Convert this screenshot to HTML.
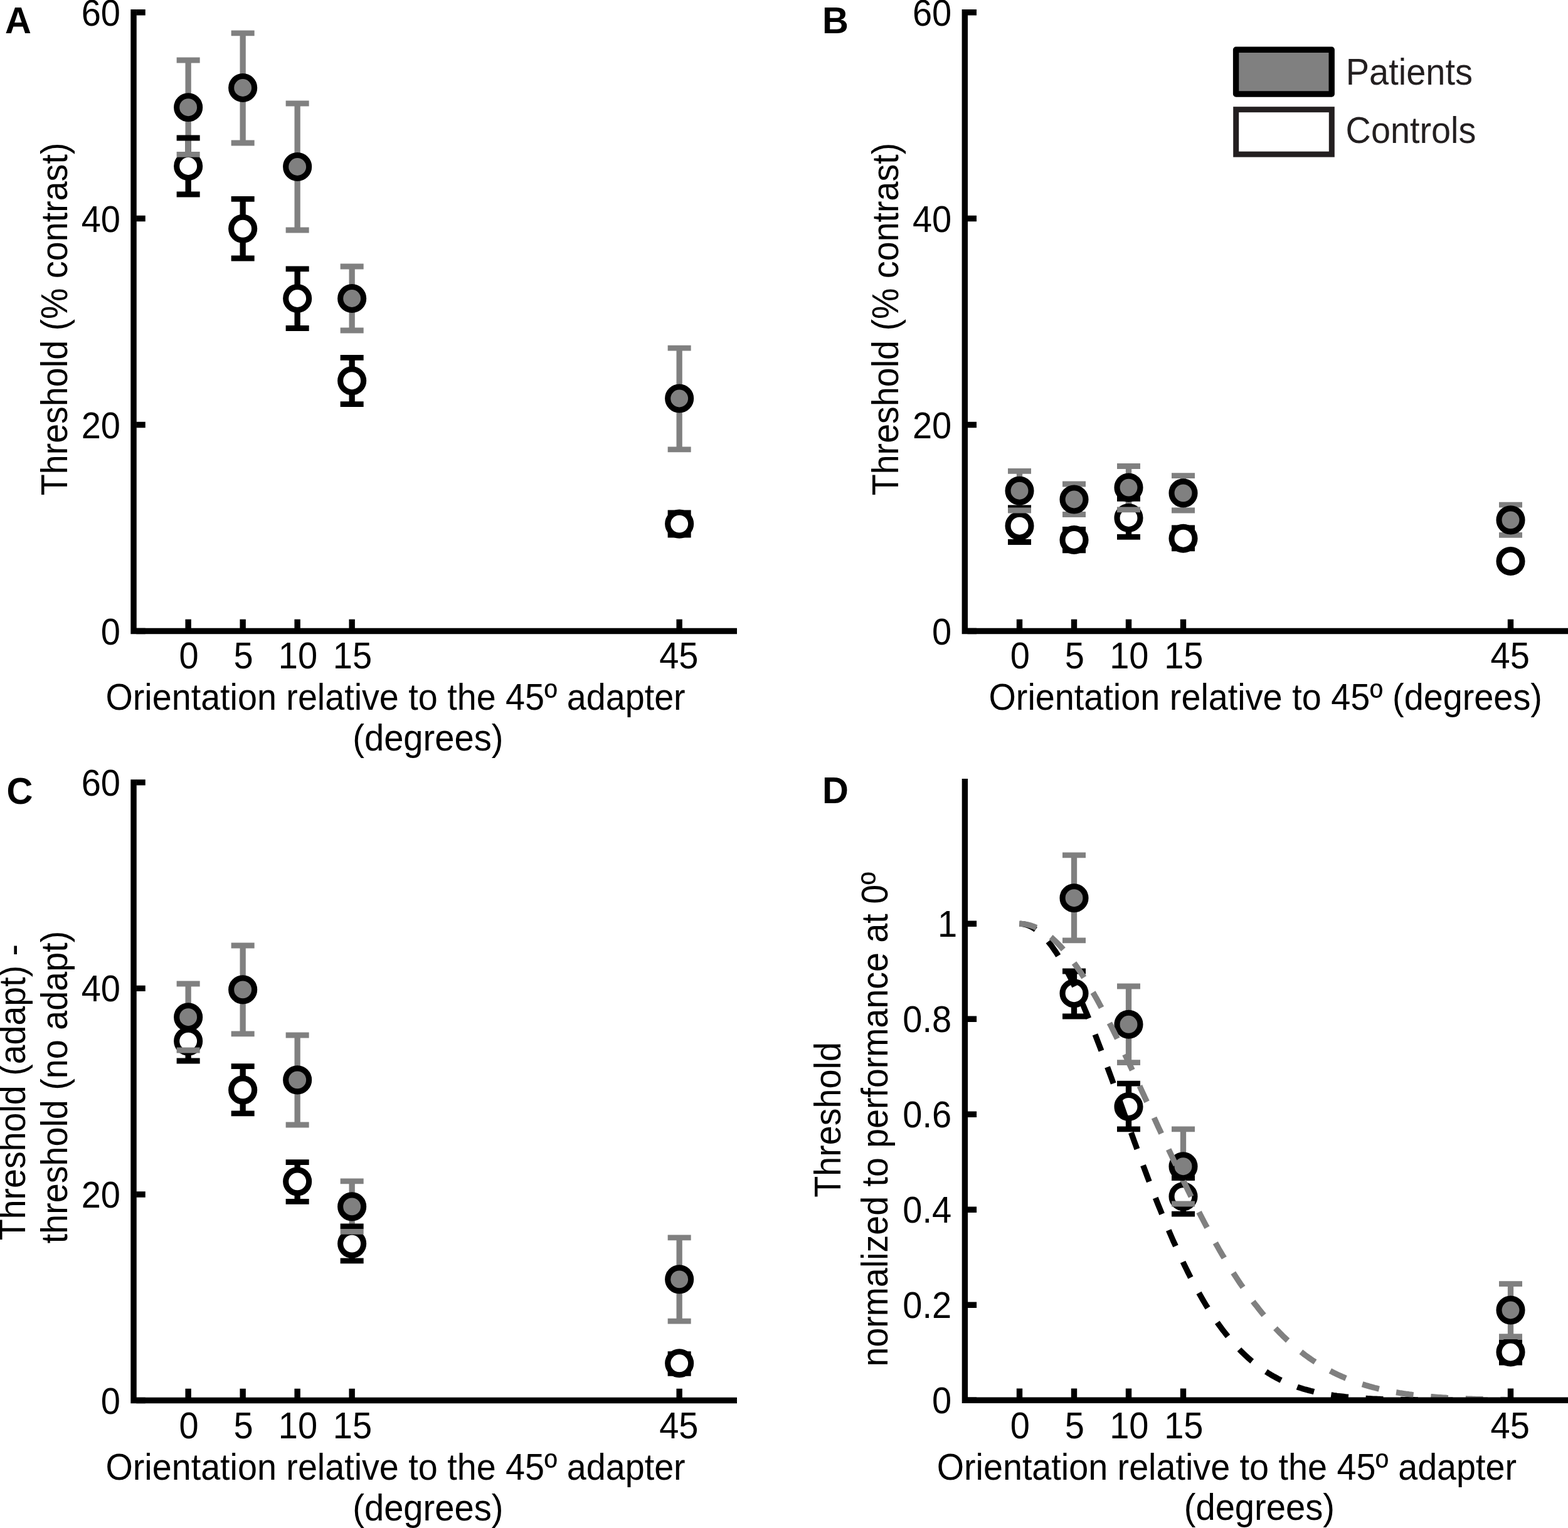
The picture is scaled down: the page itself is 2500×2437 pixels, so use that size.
<!DOCTYPE html>
<html><head><meta charset="utf-8"><title>Figure</title>
<style>html,body{margin:0;padding:0;background:#fff;overflow:hidden;}svg{display:block;}</style>
</head><body>
<svg width="2500" height="2437" viewBox="0 0 2500 2437">
<rect width="2500" height="2437" fill="#fff"/>
<path d="M300.15 220V310M387.15 317.4V412M474.15 428.8V523.5M561.15 570.4V644.6M1083.15 818V853" stroke="#000" stroke-width="9.3" fill="none"/>
<path d="M300.15 96V246.4M387.15 52.8V228M474.15 165V367M561.15 425V527M1083.15 555.2V716.8" stroke="#808080" stroke-width="9.3" fill="none"/>
<path d="M281.65 220H318.65M281.65 310H318.65M368.65 317.4H405.65M368.65 412H405.65M455.65 428.8H492.65M455.65 523.5H492.65M542.65 570.4H579.65M542.65 644.6H579.65M1064.65 818H1101.65M1064.65 853H1101.65" stroke="#000" stroke-width="8.8" fill="none"/>
<circle cx="300.15" cy="265" r="18.5" fill="#fff" stroke="#000" stroke-width="9.1"/>
<circle cx="387.15" cy="364.8" r="18.5" fill="#fff" stroke="#000" stroke-width="9.1"/>
<circle cx="474.15" cy="476" r="18.5" fill="#fff" stroke="#000" stroke-width="9.1"/>
<circle cx="561.15" cy="607.2" r="18.5" fill="#fff" stroke="#000" stroke-width="9.1"/>
<circle cx="1083.15" cy="835.6" r="18.5" fill="#fff" stroke="#000" stroke-width="9.1"/>
<path d="M281.65 96H318.65M281.65 246.4H318.65M368.65 52.8H405.65M368.65 228H405.65M455.65 165H492.65M455.65 367H492.65M542.65 425H579.65M542.65 527H579.65M1064.65 555.2H1101.65M1064.65 716.8H1101.65" stroke="#808080" stroke-width="8.8" fill="none"/>
<circle cx="300.15" cy="171.2" r="18.5" fill="#808080" stroke="#000" stroke-width="9.1"/>
<circle cx="387.15" cy="140" r="18.5" fill="#808080" stroke="#000" stroke-width="9.1"/>
<circle cx="474.15" cy="266" r="18.5" fill="#808080" stroke="#000" stroke-width="9.1"/>
<circle cx="561.15" cy="476" r="18.5" fill="#808080" stroke="#000" stroke-width="9.1"/>
<circle cx="1083.15" cy="635.5" r="18.5" fill="#808080" stroke="#000" stroke-width="9.1"/>
<path d="M1625.5 810V864.5M1712.5 844.4V877.8M1799.5 795.3V856.4M1886.5 842V874.8M2408.5 885V905" stroke="#000" stroke-width="9.3" fill="none"/>
<path d="M1625.5 751.3V814M1712.5 772V820.5M1799.5 743.5V812.9M1886.5 758.7V814M2408.5 805.2V853.3" stroke="#808080" stroke-width="9.3" fill="none"/>
<path d="M1607 810H1644M1607 864.5H1644M1694 844.4H1731M1694 877.8H1731M1781 795.3H1818M1781 856.4H1818M1868 842H1905M1868 874.8H1905M2390 885H2427M2390 905H2427" stroke="#000" stroke-width="8.8" fill="none"/>
<circle cx="1625.5" cy="838.7" r="18.5" fill="#fff" stroke="#000" stroke-width="9.1"/>
<circle cx="1712.5" cy="861" r="18.5" fill="#fff" stroke="#000" stroke-width="9.1"/>
<circle cx="1799.5" cy="826" r="18.5" fill="#fff" stroke="#000" stroke-width="9.1"/>
<circle cx="1886.5" cy="858.7" r="18.5" fill="#fff" stroke="#000" stroke-width="9.1"/>
<circle cx="2408.5" cy="895" r="18.5" fill="#fff" stroke="#000" stroke-width="9.1"/>
<path d="M1607 751.3H1644M1607 814H1644M1694 772H1731M1694 820.5H1731M1781 743.5H1818M1781 812.9H1818M1868 758.7H1905M1868 814H1905M2390 805.2H2427M2390 853.3H2427" stroke="#808080" stroke-width="8.8" fill="none"/>
<circle cx="1625.5" cy="782.7" r="18.5" fill="#808080" stroke="#000" stroke-width="9.1"/>
<circle cx="1712.5" cy="796.5" r="18.5" fill="#808080" stroke="#000" stroke-width="9.1"/>
<circle cx="1799.5" cy="777.6" r="18.5" fill="#808080" stroke="#000" stroke-width="9.1"/>
<circle cx="1886.5" cy="786.4" r="18.5" fill="#808080" stroke="#000" stroke-width="9.1"/>
<circle cx="2408.5" cy="829.4" r="18.5" fill="#808080" stroke="#000" stroke-width="9.1"/>
<path d="M300.15 1629.2V1692M387.15 1700.6V1775.8M474.15 1853.7V1916.4M561.15 1955.8V2010.8M1083.15 2159.7V2190.4" stroke="#000" stroke-width="9.3" fill="none"/>
<path d="M300.15 1569V1675M387.15 1508V1648.8M474.15 1651V1794M561.15 1883.8V1964.4M1083.15 1973.9V2107.2" stroke="#808080" stroke-width="9.3" fill="none"/>
<path d="M281.65 1629.2H318.65M281.65 1692H318.65M368.65 1700.6H405.65M368.65 1775.8H405.65M455.65 1853.7H492.65M455.65 1916.4H492.65M542.65 1955.8H579.65M542.65 2010.8H579.65M1064.65 2159.7H1101.65M1064.65 2190.4H1101.65" stroke="#000" stroke-width="8.8" fill="none"/>
<circle cx="300.15" cy="1660.6" r="18.5" fill="#fff" stroke="#000" stroke-width="9.1"/>
<circle cx="387.15" cy="1738.4" r="18.5" fill="#fff" stroke="#000" stroke-width="9.1"/>
<circle cx="474.15" cy="1884.4" r="18.5" fill="#fff" stroke="#000" stroke-width="9.1"/>
<circle cx="561.15" cy="1983.6" r="18.5" fill="#fff" stroke="#000" stroke-width="9.1"/>
<circle cx="1083.15" cy="2174.3" r="18.5" fill="#fff" stroke="#000" stroke-width="9.1"/>
<path d="M281.65 1569H318.65M281.65 1675H318.65M368.65 1508H405.65M368.65 1648.8H405.65M455.65 1651H492.65M455.65 1794H492.65M542.65 1883.8H579.65M542.65 1964.4H579.65M1064.65 1973.9H1101.65M1064.65 2107.2H1101.65" stroke="#808080" stroke-width="8.8" fill="none"/>
<circle cx="300.15" cy="1622.2" r="18.5" fill="#808080" stroke="#000" stroke-width="9.1"/>
<circle cx="387.15" cy="1578.4" r="18.5" fill="#808080" stroke="#000" stroke-width="9.1"/>
<circle cx="474.15" cy="1722.4" r="18.5" fill="#808080" stroke="#000" stroke-width="9.1"/>
<circle cx="561.15" cy="1924.4" r="18.5" fill="#808080" stroke="#000" stroke-width="9.1"/>
<circle cx="1083.15" cy="2040.4" r="18.5" fill="#808080" stroke="#000" stroke-width="9.1"/>
<path d="M1712.5 1549V1621M1799.5 1728.2V1800.8M1886.5 1878.6V1936.1M2408.5 2141V2173" stroke="#000" stroke-width="9.3" fill="none"/>
<path d="M1712.5 1363.8V1499.8M1799.5 1573V1694.6M1886.5 1800.8V1920M2408.5 2047.6V2131.7" stroke="#808080" stroke-width="9.3" fill="none"/>
<path d="M1694 1549H1731M1694 1621H1731M1781 1728.2H1818M1781 1800.8H1818M1868 1878.6H1905M1868 1936.1H1905M2390 2141H2427M2390 2173H2427" stroke="#000" stroke-width="8.8" fill="none"/>
<circle cx="1712.5" cy="1584.2" r="18.5" fill="#fff" stroke="#000" stroke-width="9.1"/>
<circle cx="1799.5" cy="1765" r="18.5" fill="#fff" stroke="#000" stroke-width="9.1"/>
<circle cx="1886.5" cy="1908.2" r="18.5" fill="#fff" stroke="#000" stroke-width="9.1"/>
<circle cx="2408.5" cy="2156.5" r="18.5" fill="#fff" stroke="#000" stroke-width="9.1"/>
<path d="M1694 1363.8H1731M1694 1499.8H1731M1781 1573H1818M1781 1694.6H1818M1868 1800.8H1905M1868 1920H1905M2390 2047.6H2427M2390 2131.7H2427" stroke="#808080" stroke-width="8.8" fill="none"/>
<circle cx="1712.5" cy="1432.2" r="18.5" fill="#808080" stroke="#000" stroke-width="9.1"/>
<circle cx="1799.5" cy="1633.8" r="18.5" fill="#808080" stroke="#000" stroke-width="9.1"/>
<circle cx="1886.5" cy="1860.2" r="18.5" fill="#808080" stroke="#000" stroke-width="9.1"/>
<circle cx="2408.5" cy="2089.5" r="18.5" fill="#808080" stroke="#000" stroke-width="9.1"/>
<clipPath id="cd"><rect x="1538" y="1200" width="962" height="1033.3"/></clipPath>
<polyline clip-path="url(#cd)" points="1625.5,1473.3 1628.1,1473.4 1630.7,1473.7 1633.3,1474.1 1635.9,1474.8 1638.5,1475.7 1641.2,1476.7 1643.8,1477.9 1646.4,1479.3 1649.0,1480.9 1651.6,1482.7 1654.2,1484.6 1656.8,1486.8 1659.4,1489.1 1662.0,1491.6 1664.7,1494.2 1667.3,1497.1 1669.9,1500.1 1672.5,1503.3 1675.1,1506.6 1677.7,1510.1 1680.3,1513.8 1682.9,1517.6 1685.5,1521.6 1688.1,1525.7 1690.8,1530.0 1693.4,1534.5 1696.0,1539.0 1698.6,1543.8 1701.2,1548.6 1703.8,1553.6 1706.4,1558.7 1709.0,1564.0 1711.6,1569.4 1714.2,1574.9 1716.8,1580.5 1719.5,1586.2 1722.1,1592.0 1724.7,1598.0 1727.3,1604.0 1729.9,1610.2 1732.5,1616.4 1735.1,1622.7 1737.7,1629.1 1740.3,1635.6 1743.0,1642.2 1745.6,1648.8 1748.2,1655.5 1750.8,1662.3 1753.4,1669.1 1756.0,1676.0 1758.6,1683.0 1761.2,1690.0 1763.8,1697.0 1766.4,1704.1 1769.0,1711.2 1771.7,1718.3 1774.3,1725.5 1776.9,1732.7 1779.5,1739.9 1782.1,1747.1 1784.7,1754.4 1787.3,1761.6 1789.9,1768.9 1792.5,1776.2 1795.2,1783.4 1797.8,1790.7 1800.4,1797.9 1803.0,1805.2 1805.6,1812.4 1808.2,1819.6 1810.8,1826.7 1813.4,1833.9 1816.0,1841.0 1818.6,1848.1 1821.2,1855.2 1823.9,1862.2 1826.5,1869.2 1829.1,1876.1 1831.7,1883.0 1834.3,1889.8 1836.9,1896.6 1839.5,1903.4 1842.1,1910.1 1844.7,1916.7 1847.3,1923.3 1850.0,1929.8 1852.6,1936.2 1855.2,1942.6 1857.8,1948.9 1860.4,1955.2 1863.0,1961.4 1865.6,1967.5 1868.2,1973.5 1870.8,1979.5 1873.5,1985.3 1876.1,1991.1 1878.7,1996.9 1881.3,2002.5 1883.9,2008.1 1886.5,2013.6 1889.1,2019.0 1891.7,2024.3 1894.3,2029.6 1896.9,2034.8 1899.5,2039.8 1902.2,2044.8 1904.8,2049.8 1907.4,2054.6 1910.0,2059.3 1912.6,2064.0 1915.2,2068.6 1917.8,2073.1 1920.4,2077.5 1923.0,2081.8 1925.7,2086.1 1928.3,2090.2 1930.9,2094.3 1933.5,2098.3 1936.1,2102.2 1938.7,2106.0 1941.3,2109.8 1943.9,2113.5 1946.5,2117.0 1949.1,2120.6 1951.8,2124.0 1954.4,2127.3 1957.0,2130.6 1959.6,2133.8 1962.2,2136.9 1964.8,2140.0 1967.4,2143.0 1970.0,2145.9 1972.6,2148.7 1975.2,2151.4 1977.8,2154.1 1980.5,2156.8 1983.1,2159.3 1985.7,2161.8 1988.3,2164.2 1990.9,2166.6 1993.5,2168.8 1996.1,2171.1 1998.7,2173.2 2001.3,2175.3 2004.0,2177.4 2006.6,2179.4 2009.2,2181.3 2011.8,2183.2 2014.4,2185.0 2017.0,2186.7 2019.6,2188.4 2022.2,2190.1 2024.8,2191.7 2027.4,2193.3 2030.0,2194.8 2032.7,2196.2 2035.3,2197.6 2037.9,2199.0 2040.5,2200.3 2043.1,2201.6 2045.7,2202.8 2048.3,2204.0 2050.9,2205.2 2053.5,2206.3 2056.2,2207.4 2058.8,2208.4 2061.4,2209.4 2064.0,2210.4 2066.6,2211.3 2069.2,2212.3 2071.8,2213.1 2074.4,2214.0 2077.0,2214.8 2079.6,2215.6 2082.2,2216.3 2084.9,2217.0 2087.5,2217.7 2090.1,2218.4 2092.7,2219.0 2095.3,2219.7 2097.9,2220.3 2100.5,2220.8 2103.1,2221.4 2105.7,2221.9 2108.3,2222.4 2111.0,2222.9 2113.6,2223.4 2116.2,2223.8 2118.8,2224.3 2121.4,2224.7 2124.0,2225.1 2126.6,2225.5 2129.2,2225.8 2131.8,2226.2 2134.4,2226.5 2137.1,2226.8 2139.7,2227.1 2142.3,2227.4 2144.9,2227.7 2147.5,2228.0 2150.1,2228.2 2152.7,2228.5 2155.3,2228.7 2157.9,2229.0 2160.6,2229.2 2163.2,2229.4 2165.8,2229.6 2168.4,2229.8 2171.0,2229.9 2173.6,2230.1 2176.2,2230.3 2178.8,2230.4 2181.4,2230.6 2184.0,2230.7 2186.7,2230.8 2189.3,2231.0 2191.9,2231.1 2194.5,2231.2 2197.1,2231.3 2199.7,2231.4 2202.3,2231.5 2204.9,2231.6 2207.5,2231.7 2210.1,2231.8 2212.8,2231.9 2215.4,2232.0 2218.0,2232.0 2220.6,2232.1 2223.2,2232.2 2225.8,2232.2 2228.4,2232.3 2231.0,2232.3 2233.6,2232.4 2236.2,2232.4 2238.8,2232.5 2241.5,2232.5 2244.1,2232.6 2246.7,2232.6 2249.3,2232.7 2251.9,2232.7 2254.5,2232.7 2257.1,2232.8 2259.7,2232.8 2262.3,2232.8 2264.9,2232.9 2267.6,2232.9 2270.2,2232.9 2272.8,2232.9 2275.4,2233.0 2278.0,2233.0 2280.6,2233.0 2283.2,2233.0 2285.8,2233.0 2288.4,2233.0 2291.1,2233.1 2293.7,2233.1 2296.3,2233.1 2298.9,2233.1 2301.5,2233.1 2304.1,2233.1 2306.7,2233.1 2309.3,2233.1 2311.9,2233.2 2314.5,2233.2 2317.2,2233.2 2319.8,2233.2 2322.4,2233.2 2325.0,2233.2 2327.6,2233.2 2330.2,2233.2 2332.8,2233.2 2335.4,2233.2 2338.0,2233.2 2340.6,2233.2 2343.2,2233.2 2345.9,2233.2 2348.5,2233.2 2351.1,2233.2 2353.7,2233.3 2356.3,2233.3 2358.9,2233.3 2361.5,2233.3 2364.1,2233.3 2366.7,2233.3 2369.3,2233.3 2372.0,2233.3 2374.6,2233.3 2377.2,2233.3 2379.8,2233.3 2382.4,2233.3 2385.0,2233.3 2387.6,2233.3 2390.2,2233.3 2392.8,2233.3 2395.4,2233.3 2398.1,2233.3 2400.7,2233.3 2403.3,2233.3 2405.9,2233.3 2408.5,2233.3" fill="none" stroke="#000" stroke-width="9.2" stroke-dasharray="27.8 27.76"/>
<polyline clip-path="url(#cd)" points="1625.5,1473.3 1628.1,1473.4 1630.7,1473.5 1633.3,1473.8 1635.9,1474.2 1638.5,1474.8 1641.2,1475.4 1643.8,1476.2 1646.4,1477.1 1649.0,1478.0 1651.6,1479.2 1654.2,1480.4 1656.8,1481.7 1659.4,1483.2 1662.0,1484.7 1664.7,1486.4 1667.3,1488.2 1669.9,1490.1 1672.5,1492.1 1675.1,1494.2 1677.7,1496.4 1680.3,1498.8 1682.9,1501.2 1685.5,1503.8 1688.1,1506.4 1690.8,1509.2 1693.4,1512.0 1696.0,1515.0 1698.6,1518.0 1701.2,1521.1 1703.8,1524.4 1706.4,1527.7 1709.0,1531.2 1711.6,1534.7 1714.2,1538.3 1716.8,1542.0 1719.5,1545.8 1722.1,1549.6 1724.7,1553.6 1727.3,1557.6 1729.9,1561.7 1732.5,1565.9 1735.1,1570.2 1737.7,1574.5 1740.3,1579.0 1743.0,1583.4 1745.6,1588.0 1748.2,1592.6 1750.8,1597.3 1753.4,1602.1 1756.0,1606.9 1758.6,1611.8 1761.2,1616.7 1763.8,1621.7 1766.4,1626.7 1769.0,1631.8 1771.7,1636.9 1774.3,1642.1 1776.9,1647.4 1779.5,1652.6 1782.1,1658.0 1784.7,1663.3 1787.3,1668.7 1789.9,1674.1 1792.5,1679.6 1795.2,1685.1 1797.8,1690.6 1800.4,1696.2 1803.0,1701.8 1805.6,1707.4 1808.2,1713.0 1810.8,1718.6 1813.4,1724.3 1816.0,1730.0 1818.6,1735.6 1821.2,1741.3 1823.9,1747.1 1826.5,1752.8 1829.1,1758.5 1831.7,1764.2 1834.3,1770.0 1836.9,1775.7 1839.5,1781.4 1842.1,1787.1 1844.7,1792.9 1847.3,1798.6 1850.0,1804.3 1852.6,1810.0 1855.2,1815.7 1857.8,1821.4 1860.4,1827.0 1863.0,1832.7 1865.6,1838.3 1868.2,1843.9 1870.8,1849.5 1873.5,1855.1 1876.1,1860.6 1878.7,1866.1 1881.3,1871.6 1883.9,1877.1 1886.5,1882.5 1889.1,1887.9 1891.7,1893.3 1894.3,1898.7 1896.9,1904.0 1899.5,1909.3 1902.2,1914.5 1904.8,1919.7 1907.4,1924.9 1910.0,1930.0 1912.6,1935.1 1915.2,1940.2 1917.8,1945.2 1920.4,1950.1 1923.0,1955.1 1925.7,1959.9 1928.3,1964.8 1930.9,1969.6 1933.5,1974.3 1936.1,1979.0 1938.7,1983.7 1941.3,1988.3 1943.9,1992.9 1946.5,1997.4 1949.1,2001.8 1951.8,2006.2 1954.4,2010.6 1957.0,2014.9 1959.6,2019.2 1962.2,2023.4 1964.8,2027.6 1967.4,2031.7 1970.0,2035.7 1972.6,2039.7 1975.2,2043.7 1977.8,2047.6 1980.5,2051.4 1983.1,2055.2 1985.7,2059.0 1988.3,2062.7 1990.9,2066.3 1993.5,2069.9 1996.1,2073.4 1998.7,2076.9 2001.3,2080.4 2004.0,2083.7 2006.6,2087.1 2009.2,2090.3 2011.8,2093.6 2014.4,2096.7 2017.0,2099.9 2019.6,2102.9 2022.2,2106.0 2024.8,2108.9 2027.4,2111.8 2030.0,2114.7 2032.7,2117.5 2035.3,2120.3 2037.9,2123.0 2040.5,2125.7 2043.1,2128.3 2045.7,2130.9 2048.3,2133.4 2050.9,2135.9 2053.5,2138.3 2056.2,2140.7 2058.8,2143.0 2061.4,2145.3 2064.0,2147.6 2066.6,2149.8 2069.2,2151.9 2071.8,2154.1 2074.4,2156.1 2077.0,2158.2 2079.6,2160.2 2082.2,2162.1 2084.9,2164.0 2087.5,2165.9 2090.1,2167.7 2092.7,2169.5 2095.3,2171.2 2097.9,2172.9 2100.5,2174.6 2103.1,2176.2 2105.7,2177.8 2108.3,2179.4 2111.0,2180.9 2113.6,2182.4 2116.2,2183.9 2118.8,2185.3 2121.4,2186.7 2124.0,2188.0 2126.6,2189.4 2129.2,2190.6 2131.8,2191.9 2134.4,2193.1 2137.1,2194.3 2139.7,2195.5 2142.3,2196.6 2144.9,2197.7 2147.5,2198.8 2150.1,2199.9 2152.7,2200.9 2155.3,2201.9 2157.9,2202.9 2160.6,2203.8 2163.2,2204.7 2165.8,2205.6 2168.4,2206.5 2171.0,2207.4 2173.6,2208.2 2176.2,2209.0 2178.8,2209.8 2181.4,2210.5 2184.0,2211.3 2186.7,2212.0 2189.3,2212.7 2191.9,2213.4 2194.5,2214.0 2197.1,2214.7 2199.7,2215.3 2202.3,2215.9 2204.9,2216.5 2207.5,2217.0 2210.1,2217.6 2212.8,2218.1 2215.4,2218.7 2218.0,2219.2 2220.6,2219.6 2223.2,2220.1 2225.8,2220.6 2228.4,2221.0 2231.0,2221.5 2233.6,2221.9 2236.2,2222.3 2238.8,2222.7 2241.5,2223.1 2244.1,2223.4 2246.7,2223.8 2249.3,2224.1 2251.9,2224.5 2254.5,2224.8 2257.1,2225.1 2259.7,2225.4 2262.3,2225.7 2264.9,2226.0 2267.6,2226.2 2270.2,2226.5 2272.8,2226.8 2275.4,2227.0 2278.0,2227.2 2280.6,2227.5 2283.2,2227.7 2285.8,2227.9 2288.4,2228.1 2291.1,2228.3 2293.7,2228.5 2296.3,2228.7 2298.9,2228.9 2301.5,2229.1 2304.1,2229.2 2306.7,2229.4 2309.3,2229.5 2311.9,2229.7 2314.5,2229.8 2317.2,2230.0 2319.8,2230.1 2322.4,2230.2 2325.0,2230.4 2327.6,2230.5 2330.2,2230.6 2332.8,2230.7 2335.4,2230.8 2338.0,2230.9 2340.6,2231.0 2343.2,2231.1 2345.9,2231.2 2348.5,2231.3 2351.1,2231.4 2353.7,2231.5 2356.3,2231.5 2358.9,2231.6 2361.5,2231.7 2364.1,2231.7 2366.7,2231.8 2369.3,2231.9 2372.0,2231.9 2374.6,2232.0 2377.2,2232.1 2379.8,2232.1 2382.4,2232.2 2385.0,2232.2 2387.6,2232.3 2390.2,2232.3 2392.8,2232.3 2395.4,2232.4 2398.1,2232.4 2400.7,2232.5 2403.3,2232.5 2405.9,2232.5 2408.5,2232.6" fill="none" stroke="#808080" stroke-width="9.2" stroke-dasharray="27.8 27.8"/>
<path d="M213.05 15.1V1011.15M208.35 1006.45H1175" stroke="#000" stroke-width="9.4" fill="none"/>
<path d="M217.25 19.8H231.75M217.25 348.55H231.75M217.25 677.5H231.75M217.25 1006.45H231.75M300.15 1002.25V987.65M387.15 1002.25V987.65M474.15 1002.25V987.65M561.15 1002.25V987.65M1083.15 1002.25V987.65" stroke="#000" stroke-width="9.4" fill="none"/>
<path d="M1538.3 15.1V1011.15M1533.6 1006.45H2500" stroke="#000" stroke-width="9.4" fill="none"/>
<path d="M1542.5 19.8H1557M1542.5 348.55H1557M1542.5 677.5H1557M1542.5 1006.45H1557M1625.5 1002.25V987.65M1712.5 1002.25V987.65M1799.5 1002.25V987.65M1886.5 1002.25V987.65M2408.5 1002.25V987.65" stroke="#000" stroke-width="9.4" fill="none"/>
<path d="M213.05 1243.2V2238.2M208.35 2233.5H1175" stroke="#000" stroke-width="9.4" fill="none"/>
<path d="M217.25 1247.9H231.75M217.25 1576.37H231.75M217.25 1904.93H231.75M217.25 2233.5H231.75M300.15 2229.3V2214.7M387.15 2229.3V2214.7M474.15 2229.3V2214.7M561.15 2229.3V2214.7M1083.15 2229.3V2214.7" stroke="#000" stroke-width="9.4" fill="none"/>
<path d="M1538.4 1242V2238M1533.7 2233.3H2500" stroke="#000" stroke-width="9.4" fill="none"/>
<path d="M1542.6 1473.3H1557.1M1542.6 1625.3H1557.1M1542.6 1777.3H1557.1M1542.6 1929.3H1557.1M1542.6 2081.3H1557.1M1542.6 2233.3H1557.1M1625.5 2229.1V2214.5M1712.5 2229.1V2214.5M1799.5 2229.1V2214.5M1886.5 2229.1V2214.5M2408.5 2229.1V2214.5" stroke="#000" stroke-width="9.4" fill="none"/>
<g font-family="'Liberation Sans', Arial, Helvetica, sans-serif" font-size="56" fill="#000">
<text transform="translate(192 40.7) scale(1 1.055)" text-anchor="end">60</text>
<text transform="translate(192 369.65) scale(1 1.055)" text-anchor="end">40</text>
<text transform="translate(192 698.6) scale(1 1.055)" text-anchor="end">20</text>
<text transform="translate(192 1027.55) scale(1 1.055)" text-anchor="end">0</text>
<text transform="translate(1517.2 40.7) scale(1 1.055)" text-anchor="end">60</text>
<text transform="translate(1517.2 369.65) scale(1 1.055)" text-anchor="end">40</text>
<text transform="translate(1517.2 698.6) scale(1 1.055)" text-anchor="end">20</text>
<text transform="translate(1517.2 1027.55) scale(1 1.055)" text-anchor="end">0</text>
<text transform="translate(192 1268.9) scale(1 1.055)" text-anchor="end">60</text>
<text transform="translate(192 1597.47) scale(1 1.055)" text-anchor="end">40</text>
<text transform="translate(192 1926.03) scale(1 1.055)" text-anchor="end">20</text>
<text transform="translate(192 2254.6) scale(1 1.055)" text-anchor="end">0</text>
<text transform="translate(1526.2 1494.4) scale(1 1.055)" text-anchor="end">1</text>
<text transform="translate(1517.2 1646.4) scale(1 1.055)" text-anchor="end">0.8</text>
<text transform="translate(1517.2 1798.4) scale(1 1.055)" text-anchor="end">0.6</text>
<text transform="translate(1517.2 1950.4) scale(1 1.055)" text-anchor="end">0.4</text>
<text transform="translate(1517.2 2102.4) scale(1 1.055)" text-anchor="end">0.2</text>
<text transform="translate(1517.2 2254.4) scale(1 1.055)" text-anchor="end">0</text>
<text transform="translate(300.95 1065.9) scale(1 1.055)" text-anchor="middle">0</text>
<text transform="translate(387.95 1065.9) scale(1 1.055)" text-anchor="middle">5</text>
<text transform="translate(474.95 1065.9) scale(1 1.055)" text-anchor="middle">10</text>
<text transform="translate(561.95 1065.9) scale(1 1.055)" text-anchor="middle">15</text>
<text transform="translate(1082.35 1065.9) scale(1 1.055)" text-anchor="middle">45</text>
<text transform="translate(1626.3 1065.9) scale(1 1.055)" text-anchor="middle">0</text>
<text transform="translate(1713.3 1065.9) scale(1 1.055)" text-anchor="middle">5</text>
<text transform="translate(1800.3 1065.9) scale(1 1.055)" text-anchor="middle">10</text>
<text transform="translate(1887.3 1065.9) scale(1 1.055)" text-anchor="middle">15</text>
<text transform="translate(2407.7 1065.9) scale(1 1.055)" text-anchor="middle">45</text>
<text transform="translate(300.95 2293.8) scale(1 1.055)" text-anchor="middle">0</text>
<text transform="translate(387.95 2293.8) scale(1 1.055)" text-anchor="middle">5</text>
<text transform="translate(474.95 2293.8) scale(1 1.055)" text-anchor="middle">10</text>
<text transform="translate(561.95 2293.8) scale(1 1.055)" text-anchor="middle">15</text>
<text transform="translate(1082.35 2293.8) scale(1 1.055)" text-anchor="middle">45</text>
<text transform="translate(1626.3 2293.5) scale(1 1.055)" text-anchor="middle">0</text>
<text transform="translate(1713.3 2293.5) scale(1 1.055)" text-anchor="middle">5</text>
<text transform="translate(1800.3 2293.5) scale(1 1.055)" text-anchor="middle">10</text>
<text transform="translate(1887.3 2293.5) scale(1 1.055)" text-anchor="middle">15</text>
<text transform="translate(2407.7 2293.5) scale(1 1.055)" text-anchor="middle">45</text>
<text transform="translate(168.52 1131.8) scale(1 1.055)" textLength="924.13" lengthAdjust="spacingAndGlyphs">Orientation relative to the 45º adapter</text>
<text transform="translate(562.19 1196.6) scale(1 1.055)" textLength="240.39" lengthAdjust="spacingAndGlyphs">(degrees)</text>
<text transform="translate(1576.41 1131.8) scale(1 1.055)" textLength="882.47" lengthAdjust="spacingAndGlyphs">Orientation relative to 45º (degrees)</text>
<text transform="translate(168.52 2360.4) scale(1 1.055)" textLength="924.13" lengthAdjust="spacingAndGlyphs">Orientation relative to the 45º adapter</text>
<text transform="translate(562.19 2424.6) scale(1 1.055)" textLength="240.39" lengthAdjust="spacingAndGlyphs">(degrees)</text>
<text transform="translate(1493.72 2359.6) scale(1 1.055)" textLength="924.33" lengthAdjust="spacingAndGlyphs">Orientation relative to the 45º adapter</text>
<text transform="translate(1887.69 2424.2) scale(1 1.055)" textLength="240.39" lengthAdjust="spacingAndGlyphs">(degrees)</text>
<text transform="translate(107.2 790.29) rotate(-90) scale(1 1.055)" textLength="562.71" lengthAdjust="spacingAndGlyphs">Threshold (% contrast)</text>
<text transform="translate(1432.3 790.29) rotate(-90) scale(1 1.055)" textLength="562.61" lengthAdjust="spacingAndGlyphs">Threshold (% contrast)</text>
<text transform="translate(40.3 1978.29) rotate(-90) scale(1 1.055)" textLength="472.39" lengthAdjust="spacingAndGlyphs">Threshold (adapt) -</text>
<text transform="translate(107.2 1983.29) rotate(-90) scale(1 1.055)" textLength="498.48" lengthAdjust="spacingAndGlyphs">threshold (no adapt)</text>
<text transform="translate(1339.6 1909.79) rotate(-90) scale(1 1.055)" textLength="247.67" lengthAdjust="spacingAndGlyphs">Threshold</text>
<text transform="translate(1415.4 2179.47) rotate(-90) scale(1 1.055)" textLength="788.78" lengthAdjust="spacingAndGlyphs">normalized to performance at 0º</text>
<g font-weight="bold" font-size="58">
<text transform="translate(8 52.9) scale(1 1.02)">A</text>
<text transform="translate(1311 52.9) scale(1 1.02)">B</text>
<text transform="translate(10.6 1282.1) scale(1 1.02)">C</text>
<text transform="translate(1311 1281.3) scale(1 1.02)">D</text>
</g>
<rect x="1970.6" y="79.2" width="152.6" height="70.8" fill="#808080" stroke="#000" stroke-width="9.4" stroke-linejoin="round"/>
<rect x="1970.7" y="174.7" width="152.6" height="71.4" fill="#fff" stroke="#231f20" stroke-width="9"/>
<g fill="#231f20">
<text transform="translate(2145.7 134.6) scale(1 1.055)" textLength="202.24" lengthAdjust="spacingAndGlyphs">Patients</text>
<text transform="translate(2145.61 227.8) scale(1 1.055)" textLength="207.7" lengthAdjust="spacingAndGlyphs">Controls</text>
</g>
</g>
</svg>
</body></html>
